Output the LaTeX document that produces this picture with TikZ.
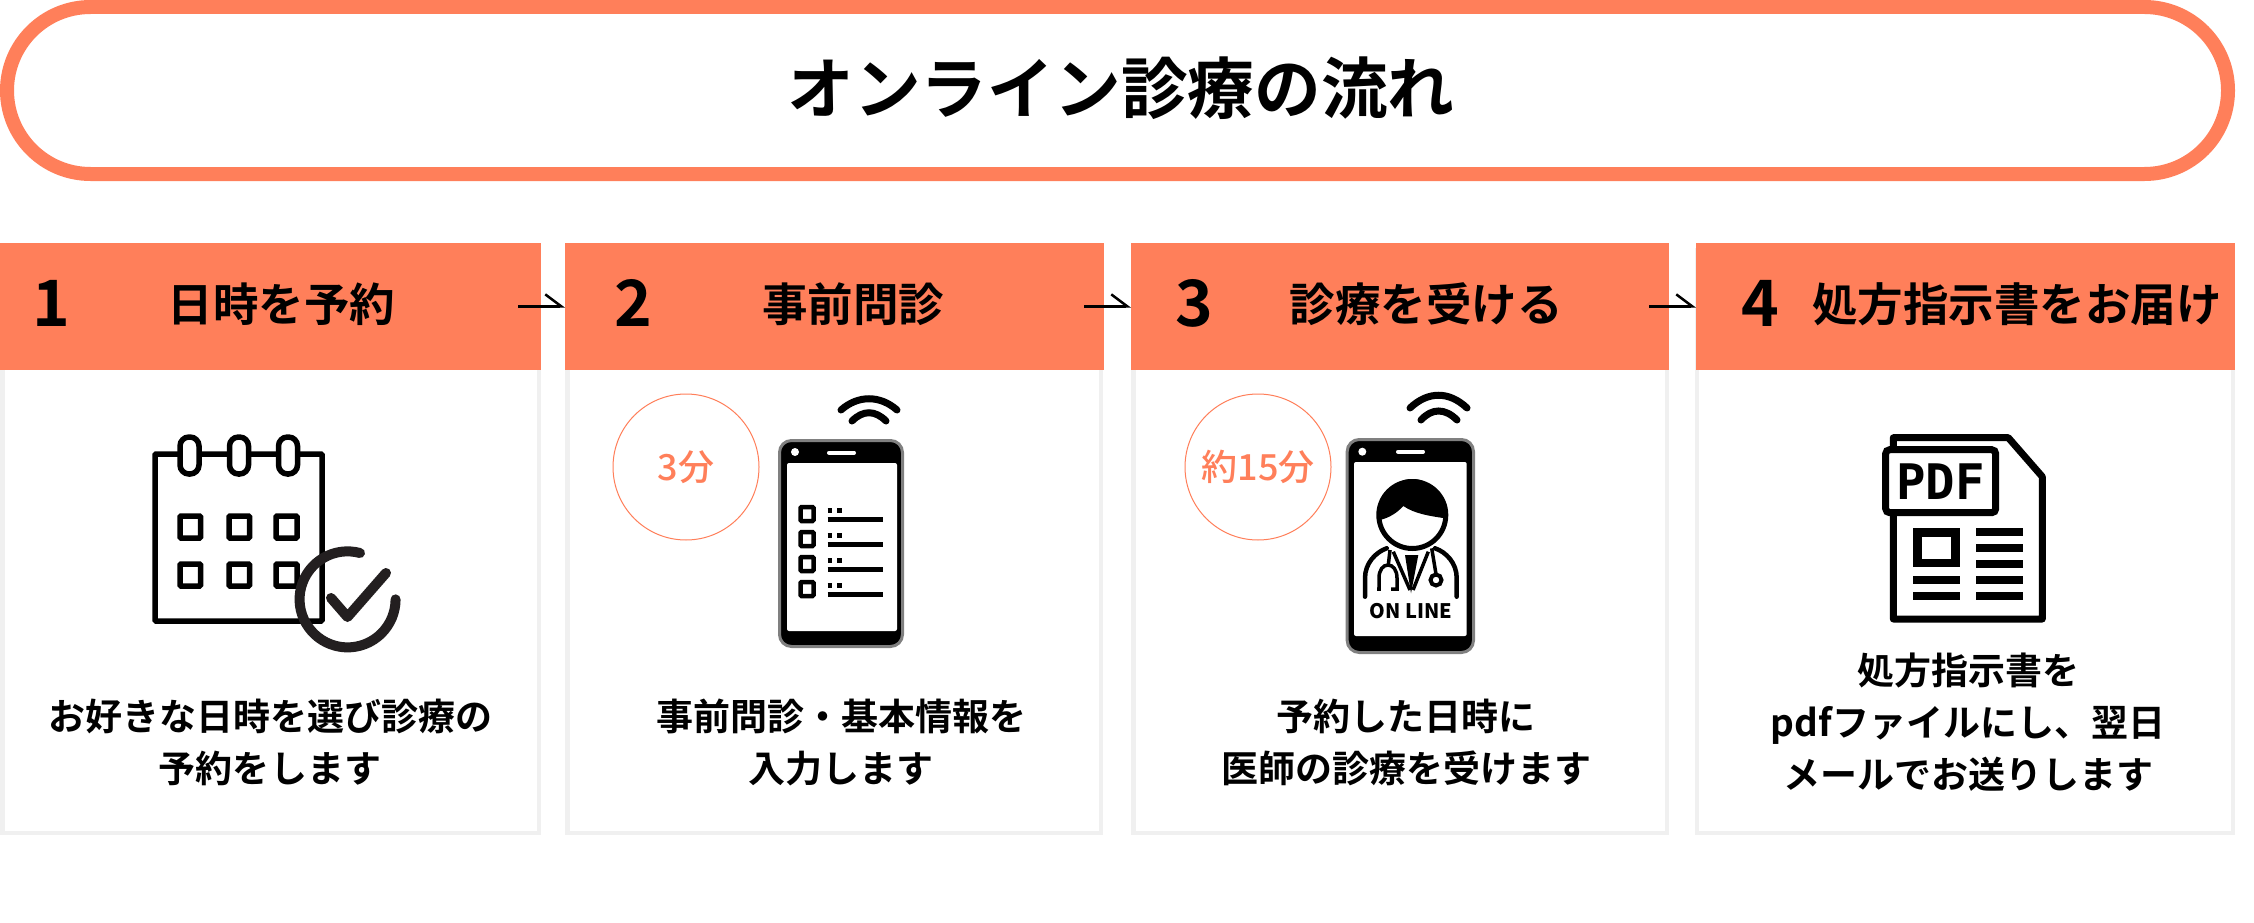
\documentclass[tikz,border=0pt]{standalone}
\usepackage{fontspec}
\usepackage{tikz}
\usetikzlibrary{arrows.meta}
\setmainfont{Noto Sans CJK JP}[BoldFont=* Bold]
\newfontfamily\jpmed{Noto Sans CJK JP Medium}
\newfontfamily\jpbold{Noto Sans CJK JP Bold}
\newfontfamily\jpblack{Noto Sans CJK JP Black}
\newfontfamily\pdfmono{DejaVu Sans Mono Bold}
\definecolor{headc}{HTML}{FF7F5A}
\definecolor{cardc}{HTML}{F0F0F0}
\definecolor{checkc}{HTML}{231F20}
\tikzset{
  pill/.style={draw=headc,fill=white,line width=14pt,rounded corners=83.5pt,minimum width=2221pt,minimum height=167pt,inner sep=0pt,outer sep=0pt},
  ttl/.style={font=\jpbold\fontsize{66.7}{66.7}\selectfont},
  card/.style={draw=cardc,fill=white,line width=4.5pt,minimum height=583pt,inner sep=0pt,outer sep=0pt},
  head/.style={fill=headc,minimum height=126.7pt,inner sep=0pt,outer sep=0pt},
  num/.style={font=\jpbold\fontsize{64}{64}\selectfont},
  htxt/.style={font=\jpbold\fontsize{45.5}{45.5}\selectfont},
  bodytxt/.style={font=\jpbold\fontsize{37}{52}\selectfont,align=center},
  timec/.style={draw=headc,line width=1pt,circle,minimum size=146pt,inner sep=0pt,text=headc,font=\jpmed\fontsize{36}{36}\selectfont},
  arw/.style={line width=2.5pt,-{Straight Barb[harpoon,length=16pt,width=24pt,line width=2.5pt]}},
  ico/.style={line width=5.5pt,rounded corners=1pt},
  phone/.style={draw=gray,fill=black,line width=3pt,rounded corners=12pt},
  wifi/.style={line width=7pt,line cap=round},
  box/.style={draw=black,fill=white,line width=4.5pt,rounded corners=1pt},
  bar/.style={line width=5pt},
  pdfbar/.style={line width=8pt}
}
\begin{document}
\begin{tikzpicture}[x=1pt,y=-1pt]
\useasboundingbox (0,0) rectangle (2254,923);

%% title
\node[pill] (band) at (1117.5,90.5) {};
\node[ttl] (ttltx) at (1121,88) {オンライン診療の流れ};

%% cards
\node[card,minimum width=536.5pt] (card1) at (270.5,541.5) {};
\node[card,minimum width=533.5pt] (card2) at (834,541.5) {};
\node[card,minimum width=533.5pt] (card3) at (1400,541.5) {};
\node[card,minimum width=536pt] (card4) at (1965,541.5) {};

%% headers
\node[head,minimum width=541pt] (hd1) at (270.5,306.35) {};
\node[head,minimum width=539pt] (hd2) at (834.5,306.35) {};
\node[head,minimum width=538pt] (hd3) at (1400,306.35) {};
\node[head,minimum width=539pt] (hd4) at (1965.5,306.35) {};
\node[num] (n1) at (51,303) {1};
\node[num] (n2) at (633.5,303) {2};
\node[num] (n3) at (1194,303) {3};
\node[num] (n4) at (1760.5,303) {4};
\node[htxt] (ht1) at (281.5,304) {日時を予約};
\node[htxt] (ht2) at (853,304) {事前問診};
\node[htxt] (ht3) at (1426,304) {診療を受ける};
\node[htxt] (ht4) at (2017,304) {処方指示書をお届け};

%% arrows
\coordinate (ar1) at (518,306.35);
\coordinate (ar2) at (1084,306.35);
\coordinate (ar3) at (1649,306.35);
\draw[arw] (ar1) -- (hd2.west);
\draw[arw] (ar2) -- (hd3.west);
\draw[arw] (ar3) -- (hd4.west);

%% body texts
\node[bodytxt] (tx1) at (270,742) {お好きな日時を選び診療の\\予約をします};
\node[bodytxt] (tx2) at (841,742) {事前問診・基本情報を\\入力します};
\node[bodytxt] (tx3) at (1406,742) {予約した日時に\\医師の診療を受けます};
\node[bodytxt] (tx4) at (1968,722) {処方指示書を\\pdfファイルにし、翌日\\メールでお送りします};

%% time circles
\node[timec] (tm2) at (686,467) {3分};
\node[timec] (tm3) at (1258,467) {約15分};

%% calendar
\draw[ico] (155,454) rectangle (322,621);
\draw[ico,fill=white,rounded corners=9pt] (180,437) rectangle (199,474);
\draw[ico,fill=white,rounded corners=9pt] (229.5,437) rectangle (248.5,474);
\draw[ico,fill=white,rounded corners=9pt] (278.5,437) rectangle (297.5,474);
\draw[ico] (180,516) rectangle (200.5,538);
\draw[ico] (229,516) rectangle (249.5,538);
\draw[ico] (276,516) rectangle (297,538);
\draw[ico] (180,564) rectangle (200.5,586);
\draw[ico] (229,564) rectangle (249.5,586);
\draw[ico] (276,564) rectangle (297,586);
\draw[checkc,line width=10pt,line cap=round] (360,553) arc[start angle=75,end angle=360,radius=48pt];
\draw[checkc,line width=10pt,line cap=round,line join=round] (331,598) -- (347.5,617) -- (386,573);

%% phone with list
\draw[wifi] (841,410) .. controls (858,395) and (880,395) .. (897,410);
\draw[wifi] (852,421) .. controls (863,410) and (875,410) .. (886,421);
\draw[phone] (779.5,440.5) rectangle (902.5,646.5);
\draw[fill=white,draw=none,rounded corners=2pt] (787,463) rectangle (897,631);
\fill[white] (795,452) circle (4pt);
\draw[white,line width=4pt,line cap=round] (829,452.7) -- (854,452.7);
\draw[box] (800.5,507) rectangle (813.5,521);
\draw[box] (800.5,532) rectangle (813.5,546);
\draw[box] (800.5,557) rectangle (813.5,571);
\draw[box] (800.5,582) rectangle (813.5,596);
\draw[bar] (827.7,510) -- (832.3,510);
\draw[bar] (837,510) -- (841.7,510);
\draw[bar] (827.7,519) -- (882.7,519);
\draw[bar] (827.7,535) -- (832.3,535);
\draw[bar] (837,535) -- (841.7,535);
\draw[bar] (827.7,544) -- (882.7,544);
\draw[bar] (827.7,560) -- (832.3,560);
\draw[bar] (837,560) -- (841.7,560);
\draw[bar] (827.7,569) -- (882.7,569);
\draw[bar] (827.7,585) -- (832.3,585);
\draw[bar] (837,585) -- (841.7,585);
\draw[bar] (827.7,594) -- (882.7,594);

%% phone with doctor
\draw[wifi] (1410,408) .. controls (1428,391) and (1449,391) .. (1467,408);
\draw[wifi] (1421,420) .. controls (1432,408) and (1445,408) .. (1457,420);
\draw[phone] (1347.2,439.5) rectangle (1473.5,652.5);
\draw[fill=white,draw=none,rounded corners=2pt] (1354,462) rectangle (1466.7,636);
\fill[white] (1362.3,451.7) circle (4pt);
\draw[white,line width=4pt,line cap=round] (1398,451.7) -- (1423,451.7);
\draw[fill=white,line width=5pt] (1412.3,515) circle (33.5pt);
\fill (1380,520) .. controls (1378,497) and (1394,479) .. (1412.3,479) .. controls (1431,479) and (1446,497) .. (1445,518.3) .. controls (1430,516) and (1415,514) .. (1403.3,506) .. controls (1396,514) and (1388,518) .. (1380,520) -- cycle;
\draw[line width=4.5pt,line cap=round] (1365,596.7) -- (1365,578) .. controls (1365,563) and (1376,552) .. (1386.7,548.3);
\draw[line width=4.5pt,line cap=round] (1456.7,596.7) -- (1456.7,578) .. controls (1456.7,563) and (1446,552) .. (1435,548.3);
\draw[line width=3.5pt] (1393.3,551.7) -- (1410,590);
\draw[line width=3.5pt] (1428.3,551.7) -- (1413,590);
\fill (1405,555) -- (1418.3,555) -- (1411,593.3) -- cycle;
\draw[line width=3.5pt] (1390,550) -- (1388.3,565);
\draw[line width=3.5pt] (1377,589) -- (1379,589) -- (1379,578) .. controls (1379,570) and (1383,565) .. (1388,565) .. controls (1393,565) and (1397,570) .. (1397,578) -- (1397,589) -- (1391,589);
\draw[line width=3.5pt] (1431.7,548.3) -- (1436,574);
\draw[line width=4pt,fill=white] (1436,580) circle (5.5pt);
\node[font=\jpblack\fontsize{20}{20}\selectfont] (onl) at (1411,611) {ON LINE};

%% pdf file
\draw[line width=7pt,line join=round] (1893.3,437.7) -- (2008.3,437.7) -- (2042.3,476.7) -- (2042.3,619) -- (1893.3,619) -- cycle;
\node[draw,fill=white,line width=7pt,rounded corners=4pt,minimum width=110pt,minimum height=63pt,inner sep=0pt,font=\pdfmono\fontsize{49}{49}\selectfont] (pdflb) at (1940.7,481.2) {PDF};
\draw[line width=8.5pt] (1917.6,532.6) rectangle (1955.7,563);
\draw[pdfbar] (1913.3,579.7) -- (1960,579.7);
\draw[pdfbar] (1913.3,595.5) -- (1960,595.5);
\draw[pdfbar] (1976,532.3) -- (2023,532.3);
\draw[pdfbar] (1976,548) -- (2023,548);
\draw[pdfbar] (1976,563.8) -- (2023,563.8);
\draw[pdfbar] (1976,579.7) -- (2023,579.7);
\draw[pdfbar] (1976,595.5) -- (2023,595.5);

\end{tikzpicture}
\end{document}
